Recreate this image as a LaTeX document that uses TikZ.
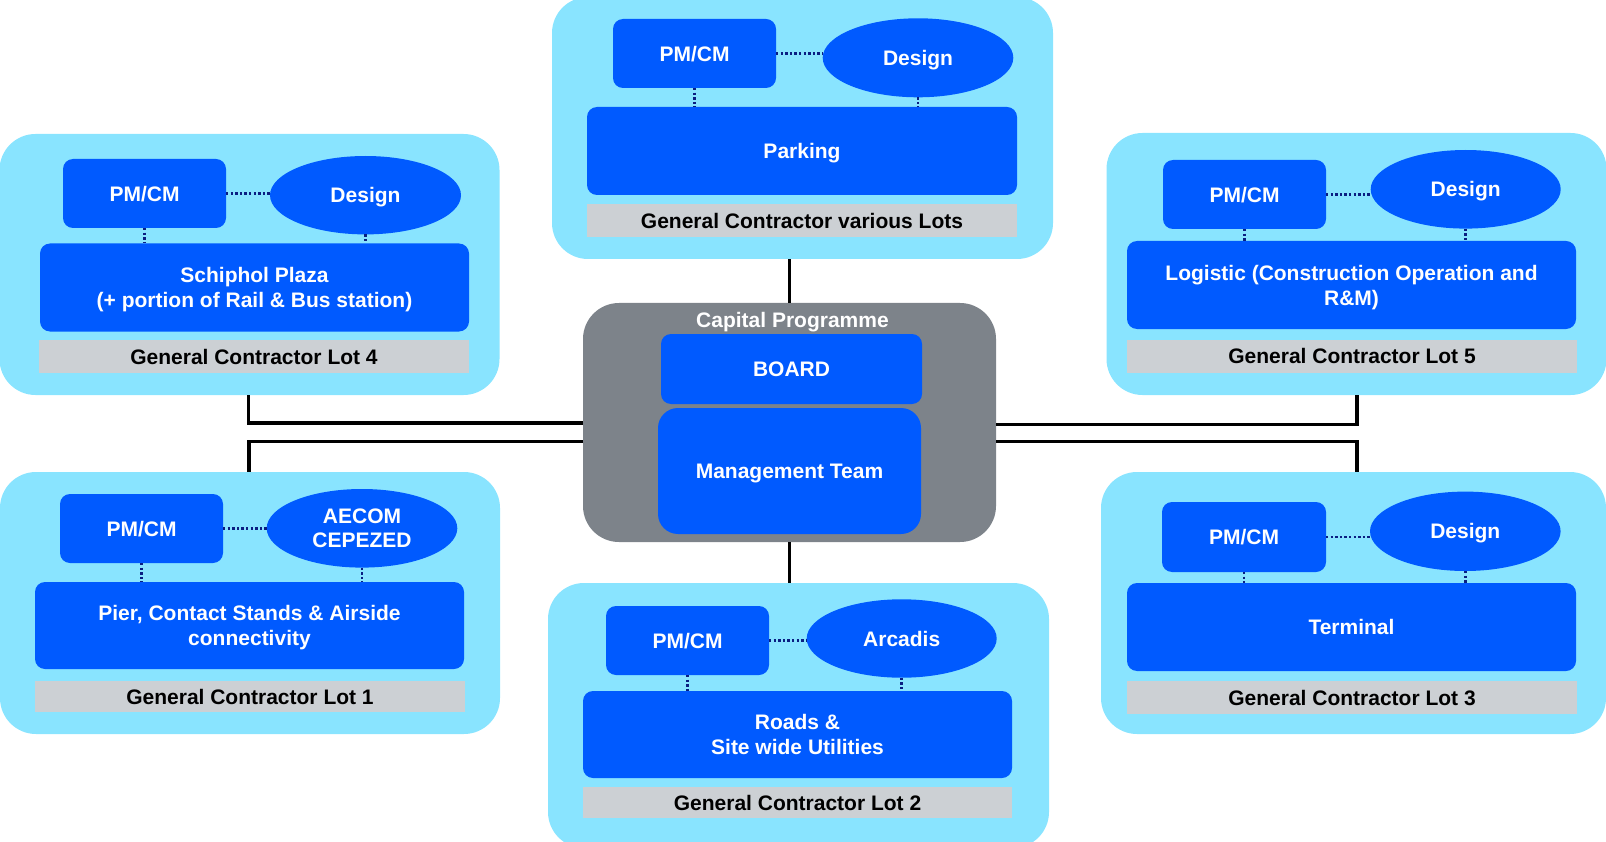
\documentclass[tikz,border=0pt]{standalone}
\usepackage{fontspec}
\setmainfont{Liberation Sans}
\usetikzlibrary{shapes.geometric}
\definecolor{lightblue}{RGB}{137,228,255}
\definecolor{boxblue}{RGB}{0,90,255}
\definecolor{centergray}{RGB}{125,131,138}
\definecolor{bargray}{RGB}{204,208,212}
\definecolor{dotnavy}{RGB}{10,30,130}
\tikzset{
  every node/.style={inner sep=0pt, outer sep=0pt, text depth=0pt, font=\bfseries\fontsize{21}{25}\selectfont, align=center},
  outerbox/.style={rectangle, fill=lightblue, rounded corners=36pt},
  hubbox/.style={rectangle, fill=centergray, rounded corners=36pt},
  bluebox/.style={rectangle, fill=boxblue, rounded corners=10pt, text=white},
  pmbox/.style={bluebox, minimum width=163pt, minimum height=69pt},
  ovalbox/.style={ellipse, fill=boxblue, text=white},
  barbox/.style={rectangle, fill=bargray, text=black},
  dotline/.style={draw=dotnavy, line width=2.8pt, dash pattern=on 2.4pt off 2.2pt},
  linkline/.style={draw=black, line width=3.6pt}
}
\begin{document}
\begin{tikzpicture}[x=1pt,y=-1pt]
\useasboundingbox (0,0) rectangle (1606,842);
\clip (0,0) rectangle (1606,842);

% ---------- outer containers ----------
\node[outerbox, minimum width=501pt, minimum height=262pt] (gcv) at (802.5,128) {};
\node[outerbox, minimum width=500pt, minimum height=261pt] (l4) at (249.5,264.5) {};
\node[outerbox, minimum width=500pt, minimum height=262pt] (l5) at (1356.5,264) {};
\node[outerbox, minimum width=500pt, minimum height=262pt] (l1) at (250,603) {};
\node[outerbox, minimum width=505pt, minimum height=262pt] (l3) at (1353.5,603) {};
\node[outerbox, minimum width=501pt, minimum height=265pt] (l2) at (798.5,715.5) {};

% ---------- central hub ----------
\node[hubbox, minimum width=413pt, minimum height=239pt] (cap) at (789.5,422.5) {};
\node[text=white] (captitle) at (792.5,320) {Capital Programme};
\node[bluebox, minimum width=261pt, minimum height=70pt] (board) at (791.5,369) {BOARD};
\node[bluebox, rounded corners=20pt, minimum width=263pt, minimum height=126pt] (mgmt) at (789.5,471) {Management Team};

% ---------- top: various lots ----------
\node[pmbox] (pmT) at (694.5,53.5) {PM/CM};
\node[ovalbox, minimum width=190.6pt, minimum height=79pt] (dT) at (918,57.8) {Design};
\node[bluebox, minimum width=430pt, minimum height=88pt] (mT) at (802,151) {Parking};
\node[barbox, minimum width=430pt, minimum height=33pt] (gT) at (802,220.5) {General Contractor various Lots};

% ---------- lot 4 ----------
\node[pmbox] (pm4) at (144.5,193.5) {PM/CM};
\node[ovalbox, minimum width=191pt, minimum height=78.4pt] (d4) at (365.5,195.2) {Design};
\node[bluebox, minimum width=429pt, minimum height=88pt] (m4) at (254.5,287.5) {Schiphol Plaza\\(+ portion of Rail \& Bus station)};
\node[barbox, minimum width=430pt, minimum height=33pt] (g4) at (254,356.5) {General Contractor Lot 4};

% ---------- lot 5 ----------
\node[pmbox] (pm5) at (1244.5,194.5) {PM/CM};
\node[ovalbox, minimum width=190pt, minimum height=78.6pt] (d5) at (1465.7,189.3) {Design};
\node[bluebox, minimum width=449pt, minimum height=88pt] (m5) at (1351.5,285) {Logistic (Construction Operation and\\R\&M)};
\node[barbox, minimum width=450pt, minimum height=33pt] (g5) at (1352,356) {General Contractor Lot 5};

% ---------- lot 1 ----------
\node[pmbox] (pm1) at (141.5,528.5) {PM/CM};
\node[ovalbox, minimum width=190.6pt, minimum height=78.6pt, font=\bfseries\fontsize{21}{23.7}\selectfont] (d1) at (362,528.3) {AECOM\\CEPEZED};
\node[bluebox, minimum width=429pt, minimum height=87pt] (m1) at (249.5,625.5) {Pier, Contact Stands \& Airside\\connectivity};
\node[barbox, minimum width=430pt, minimum height=31pt] (g1) at (250,696.5) {General Contractor Lot 1};

% ---------- lot 3 ----------
\node[pmbox, minimum width=164pt, minimum height=70pt] (pm3) at (1244,537) {PM/CM};
\node[ovalbox, minimum width=190.6pt, minimum height=79.4pt] (d3) at (1465.3,531.3) {Design};
\node[bluebox, minimum width=449pt, minimum height=88pt] (m3) at (1351.5,627) {Terminal};
\node[barbox, minimum width=450pt, minimum height=33pt] (g3) at (1352,697.5) {General Contractor Lot 3};

% ---------- lot 2 ----------
\node[pmbox] (pm2) at (687.5,640.5) {PM/CM};
\node[ovalbox, minimum width=190pt, minimum height=78.4pt] (d2) at (901.7,638.5) {Arcadis};
\node[bluebox, minimum width=429pt, minimum height=87pt] (m2) at (797.5,734.5) {Roads \&\\Site wide Utilities};
\node[barbox, minimum width=429pt, minimum height=31pt] (g2) at (797.5,802.5) {General Contractor Lot 2};

% ---------- dotted links inside clusters ----------
\foreach \p/\d/\m in {pmT/dT/mT, pm4/d4/m4, pm5/d5/m5, pm1/d1/m1, pm3/d3/m3, pm2/d2/m2}{
  \draw[dotline] (\p.east) -- (\p.east -| \d.west);
  \draw[dotline] (\p.south) -- (\p.south |- \m.north);
  \draw[dotline] (\d.south) -- (\d.south |- \m.north);
}

% ---------- connectors to the hub ----------
\coordinate (c4) at (248.5,423);
\coordinate (c1) at (249,441.5);
\coordinate (c5) at (1357,424.5);
\coordinate (c3) at (1357,441.5);
\draw[linkline] (cap.north) -- (cap.north |- gcv.south);
\draw[linkline] (cap.south) -- (cap.south |- l2.north);
\draw[linkline] (cap.west |- c4) -- (c4) -- (c4 |- l4.south);
\draw[linkline] (cap.west |- c1) -- (c1) -- (c1 |- l1.north);
\draw[linkline] (cap.east |- c5) -- (c5) -- (c5 |- l5.south);
\draw[linkline] (cap.east |- c3) -- (c3) -- (c3 |- l3.north);
\end{tikzpicture}
\end{document}
